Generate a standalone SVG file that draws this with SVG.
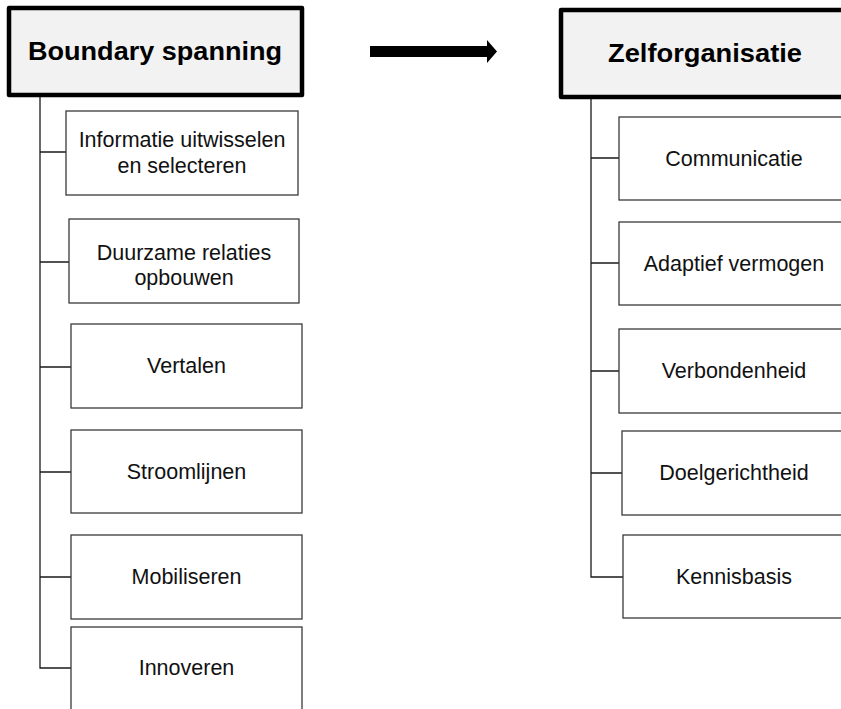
<svg xmlns="http://www.w3.org/2000/svg" width="841" height="709" viewBox="0 0 841 709">
  <style>
    .head rect { fill: #f2f2f2; stroke: #000; stroke-width: 4.5; stroke-linejoin: round; }
    .head text { font-family: "Liberation Sans", Arial, sans-serif; font-weight: bold; font-size: 25px; fill: #000; text-anchor: middle; }
    .item rect { fill: #fff; stroke: #3a3a3a; stroke-width: 1.3; }
    .item text { font-family: "Liberation Sans", Arial, sans-serif; font-size: 21.5px; fill: #111; text-anchor: middle; }
    .wire { fill: none; stroke: #1a1a1a; stroke-width: 1.3; }
  </style>

  <!-- connectors -->
  <g id="connectors">
    <path class="wire" d="M40,95 V668 H71"/>
    <path class="wire" d="M40,152 H66 M40,262 H69 M40,367 H71 M40,472 H71 M40,577 H71"/>
    <path class="wire" d="M591,97 V577 H623"/>
    <path class="wire" d="M591,158 H619 M591,263 H619 M591,371 H619 M591,473 H622"/>
    <!-- block arrow between the two trees -->
    <polygon points="370,46 487,46 487,40 497,51.5 487,63 487,57 370,57" fill="#000"/>
  </g>

  <!-- left tree -->
  <g id="boundary-spanning" class="head">
    <rect x="9" y="8" width="293" height="87"/>
    <text x="155" y="60" textLength="254" lengthAdjust="spacingAndGlyphs">Boundary spanning</text>
  </g>
  <g id="informatie" class="item">
    <rect x="66" y="111" width="232" height="84"/>
    <text x="182" y="147">Informatie uitwisselen</text>
    <text x="182" y="173">en selecteren</text>
  </g>
  <g id="duurzame-relaties" class="item">
    <rect x="69" y="219" width="230" height="84"/>
    <text x="184" y="260">Duurzame relaties</text>
    <text x="184" y="285">opbouwen</text>
  </g>
  <g id="vertalen" class="item">
    <rect x="71" y="324" width="231" height="84"/>
    <text x="186.5" y="373">Vertalen</text>
  </g>
  <g id="stroomlijnen" class="item">
    <rect x="71" y="430" width="231" height="83"/>
    <text x="186.5" y="479">Stroomlijnen</text>
  </g>
  <g id="mobiliseren" class="item">
    <rect x="71" y="535" width="231" height="84"/>
    <text x="186.5" y="584">Mobiliseren</text>
  </g>
  <g id="innoveren" class="item">
    <rect x="71" y="627" width="231" height="90"/>
    <text x="186.5" y="675">Innoveren</text>
  </g>

  <!-- right tree -->
  <g id="zelforganisatie" class="head">
    <rect x="561" y="10" width="300" height="87"/>
    <text x="705" y="62" textLength="194" lengthAdjust="spacingAndGlyphs">Zelforganisatie</text>
  </g>
  <g id="communicatie" class="item">
    <rect x="619" y="117" width="240" height="83"/>
    <text x="734" y="166">Communicatie</text>
  </g>
  <g id="adaptief-vermogen" class="item">
    <rect x="619" y="222" width="240" height="83"/>
    <text x="734" y="271">Adaptief vermogen</text>
  </g>
  <g id="verbondenheid" class="item">
    <rect x="619" y="329" width="240" height="84"/>
    <text x="734" y="378">Verbondenheid</text>
  </g>
  <g id="doelgerichtheid" class="item">
    <rect x="622" y="431" width="240" height="84"/>
    <text x="734" y="480">Doelgerichtheid</text>
  </g>
  <g id="kennisbasis" class="item">
    <rect x="623" y="535" width="240" height="83"/>
    <text x="734" y="584">Kennisbasis</text>
  </g>
</svg>
